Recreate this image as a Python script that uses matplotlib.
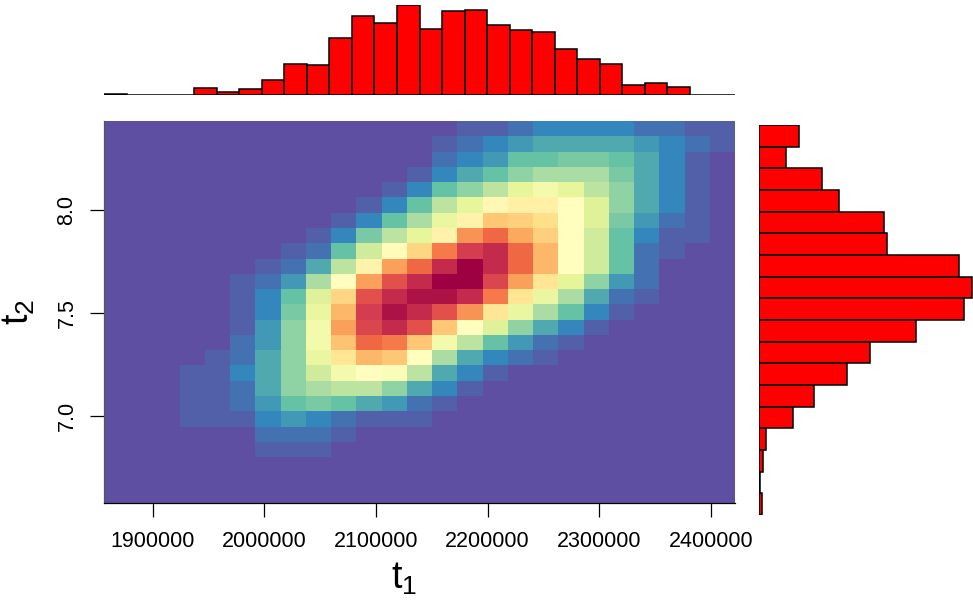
import matplotlib
matplotlib.use("Agg")
import matplotlib.pyplot as plt
import numpy as np

plt.rcParams['font.family'] = ['Liberation Sans', 'DejaVu Sans']
plt.rcParams['mathtext.fontset'] = 'custom'
plt.rcParams['mathtext.rm'] = 'Liberation Sans'

# ranges covered by the binned samples
t1_lo, t1_hi = 1856500, 2421500
t2_lo, t2_hi = 6.578, 8.432
t2_hist_lo, t2_hist_hi = 6.519, 8.413

# joint density, 25 x 25 cells, top row first (0 = low, 10 = peak)
density = [
    [0]*14 + [.3, .3, .6, 1, 1, 1, 1, .6, .6, .3, .3],
    [0]*13 + [.3, .6, 1, 1.3, 1.6, 1.6, 1.6, 1.6, 1.3, 1, .6, .3],
    [0]*13 + [.6, 1, 1.3, 2, 2, 2.3, 2.3, 2, 1.6, 1, .3, 0],
    [0]*12 + [.3, 1, 1.6, 2, 2.6, 3, 3, 3, 2.3, 1.6, 1, .3, 0],
    [0]*11 + [.3, 1, 2, 2.6, 3.3, 4.1, 4.5, 4.1, 3.3, 2.6, 1.6, 1, .3, 0],
    [0]*10 + [.3, 1, 2, 3.3, 4.1, 5.2, 5.5, 5.5, 5, 3.9, 2.6, 1.6, 1, .3, 0],
    [0]*9 + [.3, 1, 2, 3, 4.2, 5.4, 6.5, 6.3, 6, 5, 3.9, 2.3, 1.3, .6, .3, 0],
    [0]*8 + [.3, 1, 2.3, 3.3, 4.1, 5.4, 7.4, 8.1, 7.1, 6.3, 5, 3.6, 2, 1, .3, .3, 0],
    [0]*7 + [.3, .6, 2, 3.6, 5.1, 6.2, 7.8, 9, 9.3, 8.1, 6.8, 5, 3.6, 2, .6, .3, 0, 0],
    [0]*6 + [.3, .6, 1.6, 3.3, 5.4, 7.2, 8.1, 9.3, 10, 9.3, 8.1, 6.8, 5, 3.6, 2, .6, 0, 0, 0],
    [0]*5 + [.3, .6, 1.3, 3, 5, 7.2, 8.6, 9.3, 10, 10, 8.8, 7.2, 5.8, 4, 2.6, 1.3, .6, 0, 0, 0],
    [0]*5 + [.3, 1, 2, 3.9, 6.2, 8.6, 9.3, 9.7, 9.7, 9.3, 7.8, 5.8, 4.2, 3, 1.6, .6, .3, 0, 0, 0],
    [0]*5 + [.3, 1, 2.3, 4.2, 6.8, 9, 9.7, 9.3, 8.6, 7.4, 5.8, 4.2, 3, 2, 1, .3, 0, 0, 0, 0],
    [0]*5 + [.3, 1.3, 2.6, 4.5, 7.2, 8.8, 9.3, 8.6, 6.5, 5, 3.9, 2.6, 1.6, 1, .3, 0, 0, 0, 0, 0],
    [0]*5 + [.6, 1.3, 2.6, 4.5, 6.6, 8.1, 7.8, 6.5, 4.5, 3.3, 2, 1.3, .6, .3, 0, 0, 0, 0, 0, 0],
    [0]*4 + [.3, .6, 1.6, 2.6, 4.2, 5.8, 6.8, 6.5, 5, 3, 1.6, 1, .6, .3] + [0]*7,
    [0]*3 + [.3, .3, 1, 1.6, 2.6, 3.6, 4.5, 5, 4.8, 3.3, 1.6, 1, .3] + [0]*9,
    [0]*3 + [.3, .3, .6, 1.6, 2.6, 3, 3.3, 3.3, 2.6, 1.6, 1, .3] + [0]*10,
    [0]*3 + [.3, .3, .6, 1.3, 2, 2.3, 2, 1.6, 1.3, .6, .3] + [0]*11,
    [0]*3 + [.3, .3, .3, 1, 1.3, 1, .6, .3, .3, .3] + [0]*12,
    [0]*6 + [.6, .6, .6, .3] + [0]*15,
    [0]*6 + [.3, .3, .3] + [0]*16,
    [0]*25,
    [0]*25,
    [0]*25,
]

# marginal counts of t1 (28 bins, left to right)
t1_counts = [2, 0, 0, 0, 20, 8, 17, 46, 92, 90, 172, 237, 217, 269,
             199, 251, 254, 211, 196, 188, 137, 108, 93, 30, 35, 25, 0, 0]

# marginal counts of t2 (18 bins, top to bottom)
t2_counts = [121, 81, 190, 241, 378, 386, 603, 642, 618, 473, 336, 266,
             166, 101, 21, 13, 2, 8]

W, H = 973, 602
fig = plt.figure(figsize=(W / 100, H / 100), dpi=100)


def px_axes(x0, y0, x1, y1):
    return fig.add_axes([x0 / W, 1 - y1 / H, (x1 - x0) / W, (y1 - y0) / H])


# main heat map
ax = px_axes(104, 121, 735, 503)
z = np.flipud(np.array(density))
xe = np.linspace(t1_lo, t1_hi, z.shape[1] + 1)
ye = np.linspace(t2_lo, t2_hi, z.shape[0] + 1)
ax.pcolormesh(xe, ye, z, cmap='Spectral_r', vmin=0, vmax=10, shading='flat')
ax.set_xlim(t1_lo, t1_hi)
ax.set_ylim(t2_lo, t2_hi)
for s in ['top', 'right']:
    ax.spines[s].set_visible(False)
ax.spines['bottom'].set_linewidth(0.9)
ax.spines['left'].set_linewidth(0.9)
ax.spines['left'].set_color('#555555')

xt = [1900000, 2000000, 2100000, 2200000, 2300000, 2400000]
ax.set_xticks(xt)
ax.set_xticklabels([str(v) for v in xt], fontsize=15.5)
yt = [7.0, 7.5, 8.0]
ax.set_yticks(yt)
ax.set_yticklabels(['%.1f' % v for v in yt], fontsize=15.5, rotation=90, va='center')
ax.tick_params(axis='x', length=9.9, width=0.9, pad=10)
ax.tick_params(axis='y', length=9.8, width=0.9, pad=9.3)

ax.set_xlabel(r'$\mathregular{t_1}$', fontsize=27)
ax.xaxis.set_label_coords(0.475, -0.15)
ax.set_ylabel(r'$\mathregular{t_2}$', fontsize=27)
ax.yaxis.set_label_coords(-0.106, 0.5)

# top marginal histogram
ax_top = px_axes(104, 5, 735, 95)
t1_edges = np.linspace(t1_lo, t1_hi, len(t1_counts) + 1)
ax_top.bar(t1_edges[:-1], t1_counts, width=np.diff(t1_edges), align='edge',
           color='red', edgecolor='black', linewidth=1.1)
ax_top.set_xlim(t1_lo, t1_hi)
ax_top.set_ylim(0, 270)
ax_top.axis('off')

# right marginal histogram
ax_r = px_axes(759, 125, 973, 515)
t2_edges = np.linspace(t2_hist_hi, t2_hist_lo, len(t2_counts) + 1)
ax_r.barh(t2_edges[1:], t2_counts, height=-np.diff(t2_edges), align='edge',
          color='red', edgecolor='black', linewidth=1.1)
ax_r.set_ylim(t2_hist_lo, t2_hist_hi)
ax_r.set_xlim(0, 645)
ax_r.axis('off')

fig.savefig('out.png', dpi=100)
